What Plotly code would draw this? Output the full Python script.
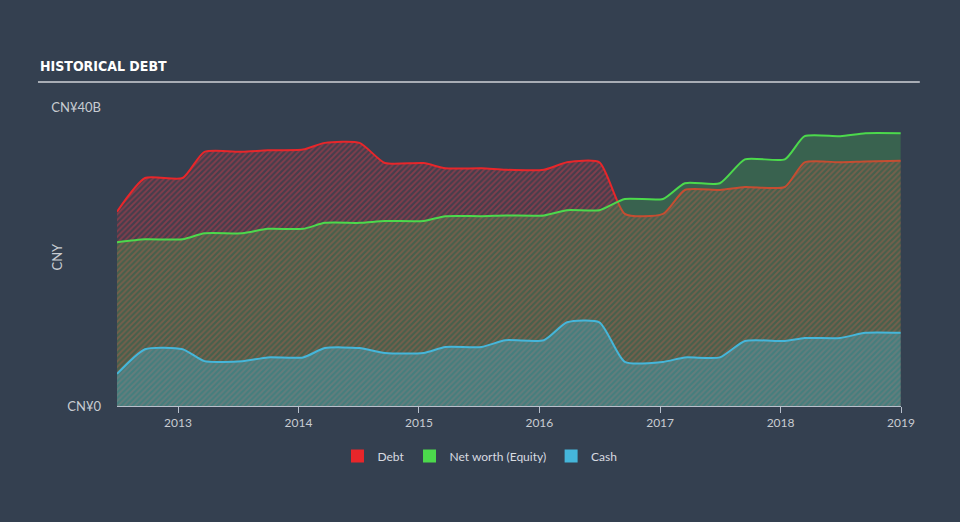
import plotly.graph_objects as go

dates = ["2012-06-30", "2012-09-23", "2013-01-15", "2013-03-22", "2013-07-15", "2013-09-30",
         "2014-01-15", "2014-03-22", "2014-07-05", "2014-09-20", "2015-01-15", "2015-03-22",
         "2015-07-10", "2015-09-20", "2016-01-15", "2016-03-25", "2016-07-01", "2016-09-16",
         "2017-01-10", "2017-03-17", "2017-07-01", "2017-09-15", "2018-01-14", "2018-03-15",
         "2018-07-01", "2018-09-15", "2018-12-31"]

debt = [26.0, 30.5, 30.5, 34.0, 34.0, 34.2, 34.3, 35.2, 35.2, 32.5, 32.5, 31.8, 31.8, 31.6,
        31.6, 32.6, 32.6, 25.7, 25.7, 28.9, 28.9, 29.3, 29.3, 32.6, 32.6, 32.7, 32.8]
equity = [21.9, 22.3, 22.3, 23.1, 23.1, 23.7, 23.7, 24.5, 24.5, 24.75, 24.75, 25.4, 25.4, 25.5,
          25.5, 26.2, 26.2, 27.7, 27.7, 29.8, 29.8, 33.0, 33.0, 36.1, 36.1, 36.5, 36.5]
cash = [4.3, 7.6, 7.6, 6.0, 6.0, 6.5, 6.5, 7.75, 7.75, 7.1, 7.1, 7.9, 7.9, 8.8,
        8.8, 11.2, 11.2, 5.9, 5.9, 6.5, 6.5, 8.7, 8.7, 9.1, 9.1, 9.8, 9.8]

year_ticks = ["2013-01-01", "2014-01-01", "2015-01-01", "2016-01-01", "2017-01-01",
              "2018-01-01", "2019-01-01"]
year_labels = ["2013", "2014", "2015", "2016", "2017", "2018", "2019"]
y_ticks = [0, 40]
y_labels = ["CN¥0", "CN¥40B"]
series_names = ["Debt", "Net worth (Equity)", "Cash"]

RED = "#e8262a"
GREEN = "#4cd94c"
BLUE = "#45b6da"
BG = "#344050"
FONT = "Lato"
TXT = "#c8ccd2"

fig = go.Figure()
fig.add_trace(go.Scatter(
    x=dates, y=debt, name=series_names[0], mode="lines", showlegend=False,
    line=dict(color=RED, width=2, shape="spline", smoothing=0.6),
    fill="tozeroy", fillcolor="rgba(232,38,42,0.1)",
    fillpattern=dict(shape="/", fgcolor="rgba(225,60,75,0.8)", bgcolor="rgba(232,38,42,0.1)",
                     size=4, solidity=0.45),
))
fig.add_trace(go.Scatter(
    x=dates, y=equity, name=series_names[1], mode="lines", showlegend=False,
    line=dict(color=GREEN, width=2, shape="spline", smoothing=0.6),
    fill="tozeroy", fillcolor="rgba(76,217,76,0.22)",
))
fig.add_trace(go.Scatter(
    x=dates, y=cash, name=series_names[2], mode="lines", showlegend=False,
    line=dict(color=BLUE, width=2, shape="spline", smoothing=0.6),
    fill="tozeroy", fillcolor="rgba(69,182,218,0.35)",
))

# legend-only entries with square swatches
for nm, col in zip(series_names, [RED, GREEN, BLUE]):
    fig.add_trace(go.Scatter(
        x=[None], y=[None], name=nm, mode="markers",
        marker=dict(symbol="square", size=13, color=col),
    ))

fig.update_layout(
    width=960, height=522,
    paper_bgcolor=BG, plot_bgcolor=BG,
    margin=dict(l=117, r=59, t=107, b=116),
    font=dict(family=FONT, color=TXT, size=12),
    showlegend=True,
    legend=dict(orientation="h", x=0.463, xanchor="center",
                y=-0.167, yanchor="middle",
                font=dict(size=12, color="#d8dbe0"), bgcolor="rgba(0,0,0,0)",
                itemwidth=30, traceorder="normal"),
    xaxis=dict(
        type="date", range=["2012-06-30", "2019-01-01"],
        tickvals=year_ticks, ticktext=year_labels,
        showgrid=False, zeroline=False,
        showline=True, linecolor="#b8c0cc", linewidth=1,
        ticks="outside", ticklen=6, tickcolor="#b8c0cc",
        tickfont=dict(size=12, color=TXT),
    ),
    yaxis=dict(
        range=[0, 40], tickvals=y_ticks, ticktext=y_labels,
        showgrid=False, zeroline=False, showline=False,
        ticks="", ticklabelstandoff=15,
        tickfont=dict(size=13, color=TXT),
    ),
    shapes=[dict(type="line", xref="paper", yref="paper",
                 x0=-0.1008, x1=1.024, y0=1.0836, y1=1.0836,
                 line=dict(color="#a8adb5", width=2))],
    annotations=[
        dict(text="<b>HISTORICAL DEBT</b>", xref="paper", yref="paper",
             x=-0.1008, y=1.103, xanchor="left", yanchor="bottom", showarrow=False,
             font=dict(family="DejaVu Sans Condensed", size=14, color="#ffffff")),
        dict(text="CNY", xref="paper", yref="paper", x=-0.0778, y=0.5,
             xanchor="center", yanchor="middle", textangle=-90, showarrow=False,
             font=dict(size=13, color=TXT)),
    ],
)

fig.write_html("out.html")
